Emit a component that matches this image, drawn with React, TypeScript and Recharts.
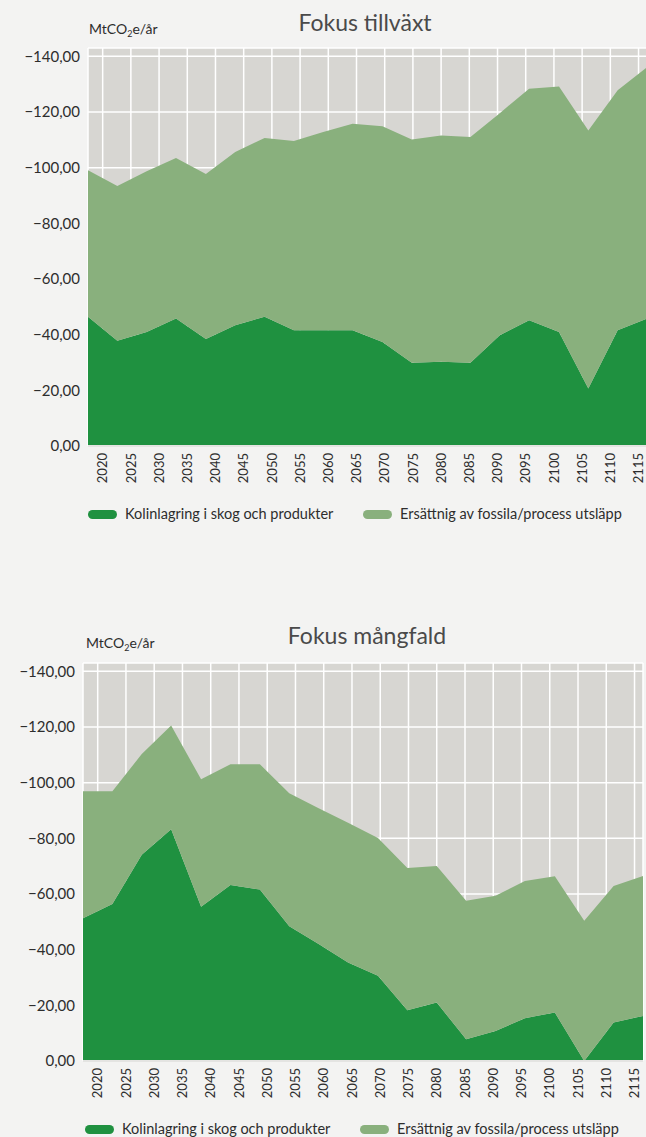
import React from "react";
import { AreaChart, Area, XAxis, YAxis, CartesianGrid, Legend } from "recharts";

// period positions (years) of the data points
const periods = [
  2017.4, 2022.6, 2027.8, 2033.0, 2038.3, 2043.5, 2048.7, 2053.9, 2059.1, 2064.3,
  2069.6, 2074.8, 2080.0, 2085.2, 2090.4, 2095.6, 2100.9, 2106.1, 2111.3, 2116.5,
];

const yearTicks = [
  2020, 2025, 2030, 2035, 2040, 2045, 2050, 2055, 2060, 2065,
  2070, 2075, 2080, 2085, 2090, 2095, 2100, 2105, 2110, 2115,
];

const valueTicks = [-140, -120, -100, -80, -60, -40, -20, 0];

// Fokus tillväxt
const tillvaxtKolinlagring = [
  -46.4, -37.8, -41.0, -45.8, -38.4, -43.4, -46.4, -41.6, -41.6, -41.6,
  -37.4, -29.9, -30.3, -29.9, -39.8, -45.2, -41.0, -20.7, -41.6, -45.8,
];
const tillvaxtErsattning = [
  -52.7, -55.6, -57.7, -57.7, -59.3, -62.2, -64.3, -68.0, -71.2, -74.2,
  -77.5, -80.2, -81.3, -81.1, -79.8, -83.2, -88.2, -92.7, -86.2, -90.3,
];

// Fokus mångfald
const mangfaldKolinlagring = [
  -51.3, -56.4, -74.1, -83.3, -55.4, -63.2, -61.6, -48.4, -42.0, -35.4,
  -30.6, -18.2, -21.0, -7.8, -10.8, -15.4, -17.4, 0, -13.8, -16.2,
];
const mangfaldErsattning = [
  -45.6, -40.5, -36.2, -37.2, -45.8, -43.4, -45.0, -47.8, -48.8, -50.2,
  -49.5, -51.1, -49.1, -49.8, -48.6, -49.3, -49.0, -50.4, -49.1, -50.3,
];

const KOL_LABEL = "Kolinlagring i skog och produkter";
const ERS_LABEL = "Ersättnig av fossila/process utsläpp";

const DARK = "#1f9140";
const LIGHT = "#89b07d";
const PLOT_BG = "#d7d6d2";
const PAGE_BG = "#f3f3f2";
const TEXT = "#2d2d2d";
const FONT = "Lato, 'Noto Sans', sans-serif";

function formatValue(v: number) {
  if (v === 0) return "0,00";
  return "\u2212" + Math.abs(v).toFixed(2).replace(".", ",");
}

function YearTick(props: any) {
  const { x, y, payload } = props;
  return (
    <text
      x={0}
      y={0}
      transform={`translate(${x},${y}) rotate(-90)`}
      textAnchor="end"
      dy="0.36em"
      fontSize={13}
      fill={TEXT}
      fontFamily={FONT}
    >
      {payload.value}
    </text>
  );
}

function LegendRow({ left1, left2 }: { left1: number; left2: number }) {
  const pill = (color: string) => (
    <span
      style={{
        display: "inline-block",
        width: 29,
        height: 9,
        borderRadius: 5,
        background: color,
        marginRight: 8,
        verticalAlign: "middle",
      }}
    />
  );
  const item = (left: number, color: string, label: string) => (
    <div
      style={{
        position: "absolute",
        left,
        top: 0,
        height: 20,
        lineHeight: "20px",
        whiteSpace: "nowrap",
        fontSize: 14.5,
        color: TEXT,
        fontFamily: FONT,
      }}
    >
      {pill(color)}
      <span style={{ verticalAlign: "middle" }}>{label}</span>
    </div>
  );
  return (
    <div style={{ position: "relative", height: 20, width: 646 }}>
      {item(left1, DARK, KOL_LABEL)}
      {item(left2, LIGHT, ERS_LABEL)}
    </div>
  );
}

interface FokusProps {
  title: string;
  kol: number[];
  ers: number[];
  top: number;
  plotTop: number;
  plotLeft: number;
  plotRight: number;
  titleX: number;
  titleY: number;
  unitX: number;
  unitY: number;
  legend1: number;
  legend2: number;
}

function FokusChart(p: FokusProps) {
  const rows = periods.map((period, i) => ({
    period,
    kol: p.kol[i],
    ers: p.ers[i],
  }));
  const plotHeight = 398;
  const height = p.plotTop + plotHeight + 57 + 20 + 5;
  return (
    <div style={{ position: "absolute", left: 0, top: p.top, width: 646, height }}>
      <div
        style={{
          position: "absolute",
          left: p.titleX,
          top: p.titleY,
          transform: "translateX(-50%)",
          fontSize: 23,
          lineHeight: "28px",
          fontWeight: 400,
          color: "#4a4a4a",
          fontFamily: FONT,
          whiteSpace: "nowrap",
        }}
      >
        {p.title}
      </div>
      <div
        style={{
          position: "absolute",
          left: p.unitX,
          top: p.unitY,
          fontSize: 14,
          lineHeight: "18px",
          color: TEXT,
          fontFamily: FONT,
          whiteSpace: "nowrap",
        }}
      >
        MtCO<sub style={{ fontSize: 9, verticalAlign: "-3px" }}>2</sub>e/år
      </div>
      <AreaChart
        width={646}
        height={height}
        data={rows}
        margin={{ top: p.plotTop, right: 646 - p.plotRight, bottom: 5, left: 0 }}
      >
        <CartesianGrid fill={PLOT_BG} stroke="#ffffff" strokeWidth={1.5} fillOpacity={1} />
        <XAxis
          dataKey="period"
          type="number"
          domain={[periods[0], periods[periods.length - 1]]}
          ticks={yearTicks}
          interval={0}
          allowDataOverflow
          tickLine={false}
          tickSize={0}
          tickMargin={7}
          axisLine={{ stroke: "#e4e4e2", strokeWidth: 2 }}
          height={57}
          tick={<YearTick />}
        />
        <YAxis
          type="number"
          domain={[-143, 0]}
          ticks={valueTicks}
          reversed
          allowDataOverflow
          width={p.plotLeft}
          tickLine={false}
          axisLine={false}
          tickSize={0}
          tickMargin={8}
          tickFormatter={formatValue}
          tick={{ fill: TEXT, fontSize: 15, fontFamily: FONT }}
        />
        <Legend
          verticalAlign="bottom"
          wrapperStyle={{ left: 0, width: 646 }}
          content={() => <LegendRow left1={p.legend1} left2={p.legend2} />}
        />
        <Area
          type="linear"
          dataKey="kol"
          name={KOL_LABEL}
          stackId="a"
          stroke="none"
          fill={DARK}
          fillOpacity={1}
          isAnimationActive={false}
        />
        <Area
          type="linear"
          dataKey="ers"
          name={ERS_LABEL}
          stackId="a"
          stroke="none"
          fill={LIGHT}
          fillOpacity={1}
          isAnimationActive={false}
        />
      </AreaChart>
    </div>
  );
}

export default function App() {
  return (
    <div
      style={{
        position: "absolute",
        left: 0,
        top: 0,
        width: 646,
        height: 1137,
        overflow: "hidden",
        background: PAGE_BG,
      }}
    >
      <FokusChart
        title="Fokus tillväxt"
        kol={tillvaxtKolinlagring}
        ers={tillvaxtErsattning}
        top={0}
        plotTop={48}
        plotLeft={88}
        plotRight={647}
        titleX={365}
        titleY={8}
        unitX={89}
        unitY={20}
        legend1={88}
        legend2={363}
      />
      <FokusChart
        title="Fokus mångfald"
        kol={mangfaldKolinlagring}
        ers={mangfaldErsattning}
        top={614}
        plotTop={49}
        plotLeft={83}
        plotRight={643}
        titleX={367}
        titleY={7}
        unitX={86}
        unitY={20}
        legend1={85}
        legend2={360}
      />
    </div>
  );
}
